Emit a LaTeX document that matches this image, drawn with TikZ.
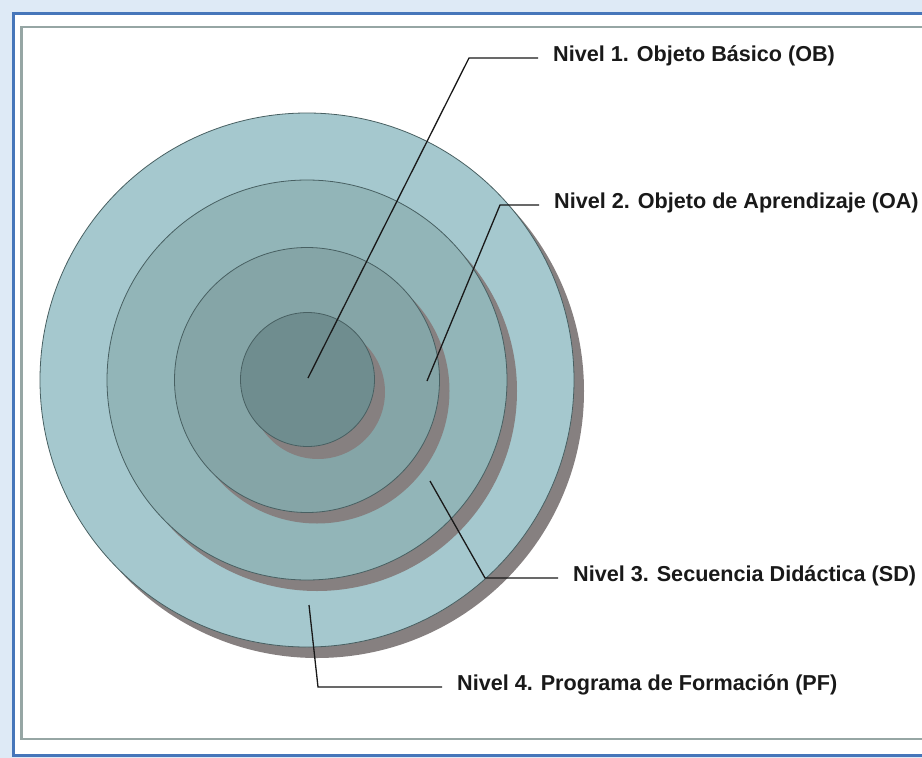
\documentclass[tikz,border=0pt]{standalone}
\usepackage{fontspec}
\setmainfont{Liberation Sans}
\definecolor{bgblue}{RGB}{222,234,246}
\definecolor{frameblue}{RGB}{70,118,186}
\definecolor{framegray}{RGB}{150,166,164}
\definecolor{cfour}{RGB}{165,200,206}
\definecolor{cthree}{RGB}{146,181,184}
\definecolor{ctwo}{RGB}{133,165,167}
\definecolor{cone}{RGB}{111,141,143}
\definecolor{shadowgray}{RGB}{134,128,128}
\definecolor{ringline}{RGB}{72,96,98}
\definecolor{inkc}{RGB}{25,25,25}
\begin{document}
\begin{tikzpicture}[x=1pt,y=-1pt,
  ring/.style={circle, draw=ringline, line width=0.8pt, inner sep=0pt},
  shade/.style={circle, fill=shadowgray, inner sep=0pt},
  lbl/.style={font=\bfseries\fontsize{21.6}{24}\selectfont, text=inkc, inner xsep=15pt, inner ysep=0pt, anchor=base west},
  lead/.style={draw=inkc, line width=1.3pt}]
\useasboundingbox (0,0) rectangle (922,758);
\clip (0,0) rectangle (922,758);
\fill[bgblue] (0,0) rectangle (922,758);
\draw[line width=3pt, draw=frameblue, fill=white] (13,13) rectangle (945,755);
\draw[line width=2.5pt, draw=framegray] (21.5,27) rectangle (940,739);
% circles with shadows
\node[shade, minimum size=534pt] (s4) at (317,391) {};
\node[ring, fill=cfour, minimum size=534pt] (L4) at (307,380) {};
\node[shade, minimum size=400pt] (s3) at (317,391) {};
\node[ring, fill=cthree, minimum size=400pt] (L3) at (307,380) {};
\node[shade, minimum size=265pt] (s2) at (317,391) {};
\node[ring, fill=ctwo, minimum size=265pt] (L2) at (307,380) {};
\node[shade, minimum size=134pt] (s1) at (318,392) {};
\node[ring, fill=cone, minimum size=134pt] (L1) at (307.5,379.5) {};
% labels
\node[lbl] (t1) at (538,61) {Nivel 1. Objeto Básico (OB)};
\node[lbl] (t2) at (539,208) {Nivel 2. Objeto de Aprendizaje (OA)};
\node[lbl] (t3) at (558,581) {Nivel 3. Secuencia Didáctica (SD)};
\node[lbl] (t4) at (442,690) {Nivel 4. Programa de Formación (PF)};
% leader points
\coordinate (p1) at (308,378);
\coordinate (e1) at (469,58);
\coordinate (p2) at (427,381);
\coordinate (e2) at (500,205);
\coordinate (p3) at (430,481);
\coordinate (e3) at (485,578);
\coordinate (p4) at (309,605);
\coordinate (e4) at (318,687);
\draw[lead] (p1) -- (e1) -- (e1 -| t1.west);
\draw[lead] (p2) -- (e2) -- (e2 -| t2.west);
\draw[lead] (p3) -- (e3) -- (e3 -| t3.west);
\draw[lead] (p4) -- (e4) -- (e4 -| t4.west);
\end{tikzpicture}
\end{document}
